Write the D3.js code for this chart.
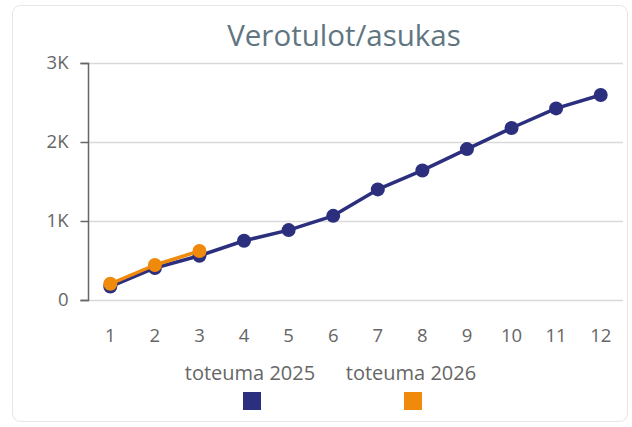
<!DOCTYPE html>
<html><head><meta charset="utf-8">
<script src="https://cdn.jsdelivr.net/npm/d3@7"></script>
<style>
body{margin:0;background:#fff;font-family:"Open Sans","Noto Sans",sans-serif;}
</style></head>
<body>
<svg id="c" width="632" height="427"></svg>
<script>
const categories = ["1","2","3","4","5","6","7","8","9","10","11","12"];
const seriesNames = ["toteuma 2025","toteuma 2026"];
const values2025 = [170,405,560,750,885,1065,1400,1640,1910,2177,2425,2595];
const values2026 = [205,443,620];
const yTicks = [0,1000,2000,3000];
const yTickLabels = ["0","1K","2K","3K"];
const colors = ["#2b2f7e","#ef8a0c"];

const svg = d3.select("#c");
svg.append("rect").attr("x",12.5).attr("y",5.5).attr("width",615).attr("height",416)
  .attr("rx",8).attr("fill","#fff").attr("stroke","#e6e6e6");

svg.append("text").attr("x",344).attr("y",46).attr("text-anchor","middle")
  .attr("font-size",29.5).attr("fill","#5f7682").text("Verotulot/asukas");

const x = d3.scaleBand().domain(categories).range([88,623]);
const y = d3.scaleLinear().domain([0,3000]).range([300,63]);

// gridlines
svg.append("g").selectAll("line").data(yTicks).join("line")
  .attr("x1",88).attr("x2",623).attr("y1",d=>y(d)+0.5).attr("y2",d=>y(d)+0.5)
  .attr("stroke","#d9d9d9").attr("stroke-width",1.5);

// y axis
const ya = svg.append("g").attr("transform","translate(88.5,0)")
  .call(d3.axisLeft(y).tickValues(yTicks).tickFormat((d,i)=>yTickLabels[i]).tickSize(8).tickPadding(12));
ya.select(".domain").attr("stroke","#666").attr("stroke-width",1.5).attr("d","M-8,"+(y(3000)+0.5)+"H0V"+(y(0)+0.5)+"H-8");
ya.selectAll(".tick line").attr("stroke","#666").attr("stroke-width",1.5);
ya.selectAll(".tick text").attr("font-size",18.5).attr("fill","#666").attr("font-family","Open Sans, Noto Sans, sans-serif");

// x axis
const xa = svg.append("g").attr("transform","translate(0,300)")
  .call(d3.axisBottom(x).tickSize(0).tickPadding(29));
xa.select(".domain").remove();
xa.selectAll(".tick text").attr("font-size",18.5).attr("fill","#666").attr("font-family","Open Sans, Noto Sans, sans-serif");

const cx = (d,i)=>x(categories[i])+x.bandwidth()/2;
const line = d3.line().x(cx).y(d=>y(d));

[values2025, values2026].forEach((vals,si)=>{
  const g = svg.append("g");
  g.append("path").datum(vals).attr("d",line).attr("fill","none")
    .attr("stroke",colors[si]).attr("stroke-width",3.5).attr("stroke-linejoin","round");
  g.selectAll("circle").data(vals).join("circle")
    .attr("cx",cx).attr("cy",d=>y(d)).attr("r",7).attr("fill",colors[si]);
});

// legend
const legX = [250,411];
seriesNames.forEach((n,i)=>{
  svg.append("text").attr("x",legX[i]).attr("y",380).attr("text-anchor","middle")
    .attr("font-size",20).attr("fill","#666").text(n);
  svg.append("rect").attr("x",legX[i]-7).attr("y",392).attr("width",18).attr("height",18)
    .attr("fill",colors[i]);
});
</script>
</body></html>
